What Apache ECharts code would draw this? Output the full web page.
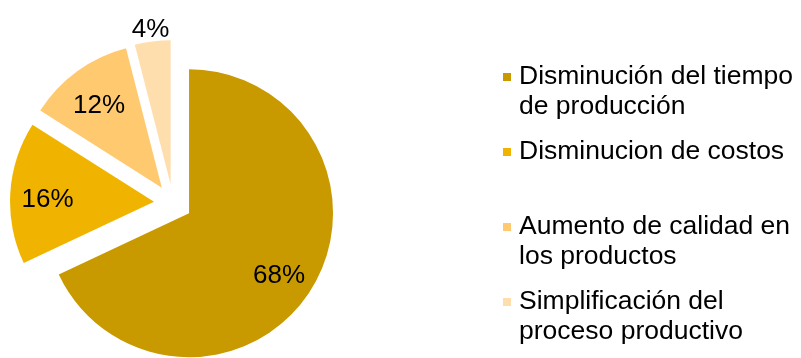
<!DOCTYPE html>
<html>
<head>
<meta charset="utf-8">
<script src="https://cdn.jsdelivr.net/npm/echarts@6/dist/echarts.min.js"></script>
<style>
  html, body { margin: 0; padding: 0; background: #ffffff; }
  #chart { width: 801px; height: 358px; }
</style>
</head>
<body>
<div id="chart"></div>
<script>
// ---- data ----
const categories = [
  'Disminución del tiempo de producción',
  'Disminucion de costos',
  'Aumento de calidad en los productos',
  'Simplificación del proceso productivo'
];
const values = [68, 16, 12, 4];
const legendLabels = [
  'Disminución del tiempo\nde producción',
  'Disminucion de costos\n',
  'Aumento de calidad en\nlos productos',
  'Simplificación del\nproceso productivo'
];
const colors = ['#C99A00', '#F0B400', '#FFC96F', '#FFDEAE'];

// ---- chart ----
const FONT = '"Liberation Sans", Arial, sans-serif';
const total = values.reduce((a, b) => a + b, 0);
const CENTER = [173, 203];
const R = 144;
const OFFSET = 19;

const baseSeries = {
  type: 'pie',
  center: CENTER,
  startAngle: 90,
  clockwise: true,
  selectedMode: 'multiple',
  selectedOffset: OFFSET,
  avoidLabelOverlap: false,
  animation: false,
  emphasis: { disabled: true, scale: false },
  select: { itemStyle: { borderWidth: 0 } },
  labelLine: { show: false }
};

const mainSeries = Object.assign({}, baseSeries, {
  name: 'main',
  radius: [0, R],
  label: { show: false },
  data: categories.map((n, i) => ({
    name: n, value: values[i], selected: true,
    itemStyle: { color: colors[i], borderWidth: 0 }
  }))
});

function labelSeries(name, radius, showFn) {
  return Object.assign({}, baseSeries, {
    name: name,
    radius: [0, radius],
    silent: true,
    z: 3,
    label: {
      position: 'inside',
      formatter: '{s|}\n{v|{c}%}',
      rich: {
        s: { height: 10, lineHeight: 10, fontSize: 1 },
        v: { color: '#000000', fontFamily: FONT, fontSize: 26, lineHeight: 30 }
      }
    },
    data: categories.map((n, i) => ({
      name: n, value: values[i], selected: true,
      itemStyle: { color: 'rgba(0,0,0,0)' },
      label: { show: showFn(values[i] / total) }
    }))
  });
}

const chart = echarts.init(document.getElementById('chart'), null, { renderer: 'canvas' });
chart.setOption({
  backgroundColor: '#ffffff',
  animation: false,
  legend: {
    orient: 'vertical',
    left: 498,
    top: 27,
    height: 330,
    itemWidth: 8,
    itemHeight: 8,
    itemGap: -15,
    icon: 'rect',
    selectedMode: false,
    data: categories,
    formatter: name => '\n' + legendLabels[categories.indexOf(name)],
    textStyle: {
      fontFamily: FONT,
      fontSize: 26.5,
      lineHeight: 30,
      color: '#000000',
      padding: [0, 0, 0, 3]
    }
  },
  series: [
    mainSeries,
    labelSeries('labelsInner', R * 1.44, share => share >= 0.05),
    labelSeries('labelsOuter', R * 2.19, share => share < 0.05)
  ]
});
</script>
</body>
</html>
